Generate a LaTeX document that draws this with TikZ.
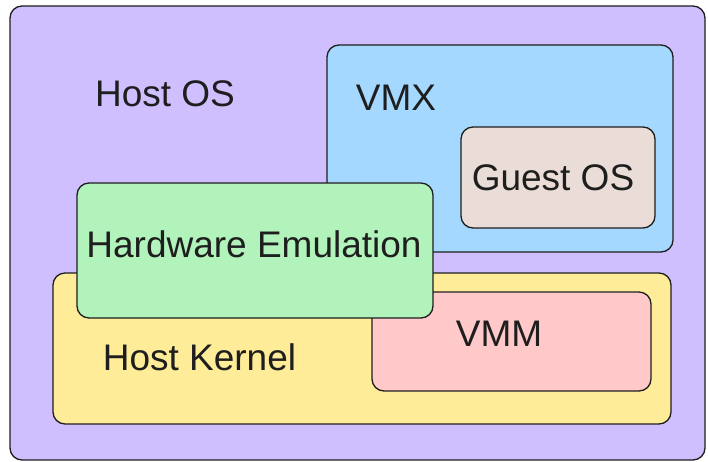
\documentclass[tikz,border=0pt]{standalone}
\usepackage{fontspec}
\setmainfont{Liberation Sans}
\definecolor{strokec}{HTML}{1E1E1E}
\definecolor{purplec}{HTML}{D0BFFF}
\definecolor{bluec}{HTML}{A5D8FF}
\definecolor{brownc}{HTML}{EADDD7}
\definecolor{greenc}{HTML}{B2F2BB}
\definecolor{yellowc}{HTML}{FFEC99}
\definecolor{pinkc}{HTML}{FFC9C9}
\tikzset{
  box/.style={draw=strokec, line width=1.3pt, rounded corners=12pt, inner sep=0pt, outer sep=0pt},
  lbl/.style={anchor=base, inner sep=0pt, text=strokec, font=\fontsize{37}{41}\selectfont}
}
\begin{document}
\begin{tikzpicture}[x=1pt,y=-1pt]
\useasboundingbox[fill=white] (0,0) rectangle (708,461);
% boxes
\draw[box, fill=purplec] (10,6) rectangle (705,460);
\node (hostos) [lbl] at (165,106) {Host OS};
\draw[box, fill=bluec] (327,45) rectangle (673,252);
\node (vmx) [lbl] at (396,110) {VMX};
\draw[box, fill=brownc] (461,127) rectangle (655,228);
\node (guest) [lbl] at (553,190) {Guest OS};
\draw[box, fill=yellowc] (53,273) rectangle (671,424);
\node (kernel) [lbl] at (199.5,370) {Host Kernel};
\draw[box, fill=pinkc] (372,292) rectangle (651,391);
\node (vmm) [lbl] at (499,346) {VMM};
\draw[box, fill=greenc] (77,183) rectangle (433,318);
\node (hwemu) [lbl] at (254,257) {Hardware Emulation};
\end{tikzpicture}
\end{document}
